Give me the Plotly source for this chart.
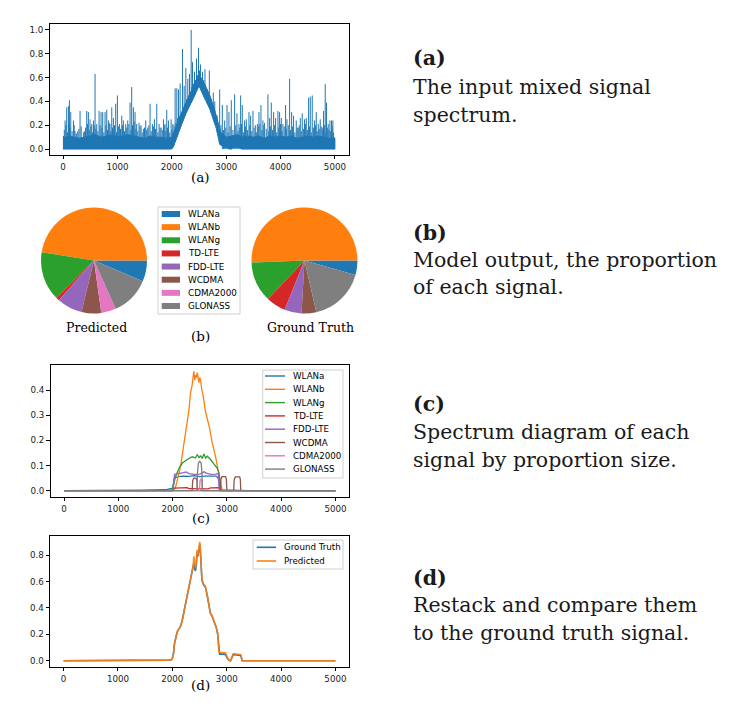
import plotly.graph_objects as go

W, H = 737, 716

# ---------------- DATA ----------------
SIGNALS = ["WLANa", "WLANb", "WLANg", "TD-LTE", "FDD-LTE", "WCDMA", "CDMA2000", "GLONASS"]
COLORS = ["#1f77b4", "#ff7f0e", "#2ca02c", "#d62728", "#9467bd", "#8c564b", "#e377c2", "#7f7f7f"]

# (a) input mixed signal spectrum
# dense band: top edge and lower edge (floor of the central hump)
A_band_x = [0, 100, 200, 300, 400, 500, 600, 700, 800, 900, 1000, 1100, 1200, 1300, 1400, 1500, 1600,
            1700, 1800, 1900, 2000, 2100, 2200, 2300, 2400, 2500, 2600, 2700, 2800, 2900, 3000, 3100,
            3200, 3300, 3400, 3500, 3600, 3700, 3800, 3900, 4000, 4100, 4200, 4300, 4400, 4500, 4600,
            4700, 4800, 4900, 5000]
A_band_top = [0.09, 0.11, 0.10, 0.09, 0.10, 0.11, 0.12, 0.10, 0.11, 0.12, 0.10, 0.11, 0.12, 0.11, 0.10,
              0.09, 0.11, 0.10, 0.10, 0.09, 0.10, 0.22, 0.33, 0.43, 0.53, 0.62, 0.55, 0.45, 0.31, 0.14,
              0.10, 0.11, 0.12, 0.10, 0.11, 0.10, 0.11, 0.09, 0.11, 0.10, 0.11, 0.10, 0.11, 0.09, 0.10,
              0.11, 0.10, 0.11, 0.10, 0.09, 0.09]
A_floor_x = [0, 1995, 2030, 2080, 2150, 2270, 2390, 2500, 2520, 2580, 2700, 2820, 2880, 2950, 3020,
             3060, 3100, 3150, 3250, 3280, 5000]
A_floor_y = [0, 0, 0.02, 0.08, 0.17, 0.31, 0.42, 0.53, 0.52, 0.45, 0.335, 0.17, 0.04, 0.02, 0.01,
             0, 0, 0.015, 0.015, 0, 0]
# spikes outside the central hump (start at 0)
A_spike_x = [6, 22, 37, 52, 67, 82, 98, 107, 116, 128, 141, 165, 190, 205, 220, 245, 270, 291, 312, 333,
             355, 373, 392, 413, 435, 450, 465, 480, 496, 511, 527, 542, 558, 573, 588, 603, 619, 640,
             662, 680, 699, 714, 729, 750, 772, 787, 803, 818, 833, 848, 864, 879, 895, 910, 925, 946,
             968, 983, 999, 1017, 1036, 1057, 1079, 1094, 1109, 1130, 1152, 1170, 1189, 1210, 1232,
             1247, 1262, 1277, 1293, 1308, 1324, 1339, 1354, 1375, 1397, 1415, 1434, 1455, 1477, 1498,
             1520, 1538, 1557, 1578, 1600, 1621, 1643, 1661, 1680, 1701, 1723, 1744, 1766, 1784, 1803,
             1824, 1846, 1861, 1876, 1891, 1907, 1922, 1938, 1962, 1987,
             2929, 2950, 2972, 2993, 3015, 3033, 3051, 3072, 3094, 3124, 3155, 3176, 3198, 3216, 3235,
             3250, 3266, 3281, 3296, 3317, 3339, 3354, 3370, 3394, 3419, 3434, 3450, 3471, 3493, 3514,
             3536, 3554, 3573, 3588, 3603, 3621, 3640, 3658, 3676, 3691, 3707, 3737, 3768, 3783, 3799,
             3814, 3830, 3851, 3873, 3891, 3909, 3930, 3952, 3967, 3983, 3998, 4014, 4029, 4044, 4068,
             4093, 4105, 4118, 4142, 4167, 4185, 4204, 4222, 4240, 4264, 4289, 4307, 4326, 4344, 4363,
             4381, 4399, 4420, 4442, 4457, 4473, 4494, 4516, 4531, 4547, 4565, 4583, 4604, 4626, 4641,
             4657, 4675, 4694, 4712, 4730, 4748, 4767, 4779, 4791, 4806, 4822, 4834, 4846, 4861, 4877,
             4892, 4908, 4923, 4938, 4950, 4963, 4975, 4987]
A_spike_y = [0.11, 0.16, 0.24, 0.20, 0.35, 0.14, 0.36, 0.22, 0.41, 0.18, 0.31, 0.15, 0.24, 0.20, 0.15,
             0.13, 0.15, 0.17, 0.32, 0.19, 0.10, 0.14, 0.15, 0.18, 0.32, 0.21, 0.31, 0.16, 0.25, 0.19,
             0.21, 0.14, 0.24, 0.20, 0.63, 0.17, 0.21, 0.15, 0.32, 0.20, 0.31, 0.18, 0.31, 0.14, 0.31,
             0.20, 0.33, 0.16, 0.24, 0.22, 0.21, 0.15, 0.35, 0.18, 0.26, 0.20, 0.38, 0.14, 0.45, 0.19,
             0.21, 0.17, 0.28, 0.20, 0.24, 0.15, 0.21, 0.18, 0.24, 0.21, 0.39, 0.16, 0.52, 0.20, 0.35,
             0.23, 0.31, 0.17, 0.21, 0.15, 0.22, 0.19, 0.20, 0.14, 0.17, 0.18, 0.24, 0.16, 0.18, 0.20,
             0.38, 0.15, 0.21, 0.19, 0.25, 0.17, 0.38, 0.14, 0.21, 0.18, 0.18, 0.16, 0.25, 0.20, 0.21,
             0.15, 0.33, 0.18, 0.24, 0.14, 0.25,
             0.37, 0.16, 0.24, 0.18, 0.37, 0.14, 0.31, 0.19, 0.41, 0.16, 0.46, 0.20, 0.30, 0.15, 0.21,
             0.18, 0.45, 0.21, 0.37, 0.14, 0.24, 0.19, 0.25, 0.16, 0.31, 0.20, 0.28, 0.15, 0.32, 0.18,
             0.20, 0.14, 0.21, 0.19, 0.31, 0.21, 0.37, 0.16, 0.24, 0.20, 0.22, 0.17, 0.46, 0.15, 0.26,
             0.19, 0.39, 0.16, 0.31, 0.20, 0.26, 0.14, 0.32, 0.18, 0.31, 0.21, 0.26, 0.15, 0.21, 0.19,
             0.37, 0.17, 0.25, 0.20, 0.59, 0.16, 0.31, 0.19, 0.28, 0.14, 0.24, 0.18, 0.18, 0.20, 0.26,
             0.15, 0.30, 0.17, 0.25, 0.21, 0.26, 0.16, 0.43, 0.19, 0.44, 0.14, 0.45, 0.18, 0.24, 0.20,
             0.31, 0.15, 0.21, 0.17, 0.25, 0.19, 0.18, 0.16, 0.32, 0.20, 0.545, 0.14, 0.39, 0.18, 0.21,
             0.16, 0.24, 0.15, 0.24, 0.19, 0.24, 0.14, 0.10]
# spikes riding on the central hump: x, lower end (floor), upper end
A_hump_x = [2002, 2018, 2040, 2061, 2076, 2092, 2107, 2123, 2138, 2153, 2175, 2196, 2211, 2227, 2242,
            2258, 2276, 2294, 2310, 2325, 2340, 2356, 2368, 2380, 2398, 2417, 2435, 2454, 2472, 2491,
            2509, 2527, 2545, 2564, 2587, 2610, 2650, 2690, 2726, 2763, 2776, 2790, 2835, 2880, 2904]
A_hump_base = [0.004, 0.013, 0.03, 0.06, 0.075, 0.10, 0.11, 0.135, 0.155, 0.17, 0.20, 0.22, 0.24, 0.26,
               0.28, 0.30, 0.315, 0.33, 0.35, 0.36, 0.375, 0.39, 0.40, 0.41, 0.43, 0.45, 0.46, 0.48,
               0.50, 0.52, 0.53, 0.51, 0.49, 0.47, 0.44, 0.42, 0.38, 0.345, 0.30, 0.25, 0.23, 0.21,
               0.14, 0.04, 0.035]
A_hump_top = [0.16, 0.21, 0.20, 0.51, 0.22, 0.51, 0.26, 0.50, 0.28, 0.55, 0.30, 0.84, 0.34, 0.53, 0.38,
              0.68, 0.42, 0.59, 0.45, 0.63, 0.48, 1.00, 0.52, 0.73, 0.55, 0.65, 0.58, 0.76, 0.62, 0.85,
              0.66, 0.71, 0.60, 0.65, 0.58, 0.67, 0.50, 0.66, 0.42, 0.475, 0.35, 0.40, 0.28, 0.50, 0.20]

# (b) proportions (%)
PIE_PREDICTED = [6.4, 47.5, 15.0, 1.0, 7.7, 6.0, 4.5, 11.9]
PIE_GROUND_TRUTH = [4.4, 50.6, 12.3, 6.0, 5.2, 4.5, 0.0, 17.0]

# (c) per-signal spectra
C_WLANa_x = [0, 1400, 1900, 2000, 2030, 2100, 2200, 2300, 2400, 2500, 2600, 2700, 2800, 2840, 2870, 2900, 3400, 5000]
C_WLANa_y = [0, 0, 0.005, 0.01, 0.05, 0.056, 0.058, 0.057, 0.06, 0.056, 0.058, 0.057, 0.058, 0.05, 0.01, 0.003, 0, 0]
C_WLANb_x = [0, 2000, 2050, 2090, 2150, 2210, 2270, 2300, 2330, 2360, 2390, 2410, 2425, 2440, 2455, 2470,
             2485, 2500, 2515, 2540, 2565, 2600, 2640, 2680, 2730, 2790, 2850, 2885, 2915, 5000]
C_WLANb_y = [0, 0, 0.01, 0.045, 0.1, 0.19, 0.27, 0.32, 0.39, 0.42, 0.475, 0.44, 0.46, 0.45, 0.47, 0.44,
             0.43, 0.45, 0.44, 0.40, 0.375, 0.32, 0.29, 0.25, 0.19, 0.137, 0.07, 0.03, 0, 0]
C_WLANg_x = [0, 1990, 2025, 2055, 2120, 2180, 2270, 2360, 2420, 2455, 2490, 2515, 2545, 2577, 2610, 2640,
             2700, 2760, 2820, 2855, 2885, 2910, 5000]
C_WLANg_y = [0, 0.003, 0.03, 0.057, 0.09, 0.11, 0.124, 0.135, 0.13, 0.144, 0.13, 0.14, 0.128, 0.146, 0.13,
             0.137, 0.124, 0.108, 0.09, 0.07, 0.01, 0, 0]
C_TDLTE_x = [0, 2000, 2030, 2270, 2300, 2650, 2700, 2850, 2880, 5000]
C_TDLTE_y = [0, 0, 0.01, 0.012, 0.008, 0.007, 0.011, 0.012, 0, 0]
C_FDDLTE_x = [0, 2010, 2035, 2100, 2200, 2250, 2300, 2400, 2500, 2580, 2620, 2700, 2800, 2840, 2860, 5000]
C_FDDLTE_y = [0, 0, 0.065, 0.067, 0.072, 0.075, 0.068, 0.065, 0.066, 0.075, 0.07, 0.065, 0.066, 0.07, 0, 0]
C_WCDMA_x = [0, 2360, 2370, 2390, 2430, 2450, 2460, 2880, 2890, 2910, 2975, 2990, 3000, 3125, 3135,
             3155, 3235, 3248, 3255, 5000]
C_WCDMA_y = [0, 0, 0.04, 0.05, 0.05, 0.04, 0, 0, 0.045, 0.056, 0.056, 0.045, 0, 0, 0.045,
             0.055, 0.055, 0.045, 0, 0]
C_CDMA2000_x = [0, 2495, 2505, 2520, 2538, 2548, 5000]
C_CDMA2000_y = [0, 0, 0.04, 0.045, 0.04, 0, 0]
C_GLONASS_x = [0, 2450, 2458, 2475, 2500, 2525, 2542, 2550, 5000]
C_GLONASS_y = [0, 0, 0.07, 0.11, 0.117, 0.11, 0.07, 0, 0]

# (d) restacked vs ground truth
D_x = [0, 1500, 1950, 1995, 2020, 2040, 2060, 2090, 2120, 2150, 2180, 2210, 2240, 2270, 2300, 2320, 2345,
       2365, 2385, 2395, 2410, 2425, 2440, 2455, 2470, 2490, 2505, 2515, 2530, 2545, 2575, 2607, 2640,
       2670, 2700, 2730, 2760, 2790, 2810, 2835, 2855, 2870, 2950, 2980, 3010, 3040, 3070, 3100, 3120,
       3140, 3240, 3260, 3285, 3400, 5000]
D_truth = [0, 0.002, 0.005, 0.01, 0.05, 0.13, 0.18, 0.22, 0.24, 0.26, 0.30, 0.36, 0.42, 0.49, 0.55, 0.58,
           0.62, 0.66, 0.70, 0.74, 0.70, 0.68, 0.72, 0.82, 0.79, 0.85, 0.88, 0.84, 0.70, 0.61, 0.575,
           0.56, 0.50, 0.44, 0.36, 0.34, 0.31, 0.27, 0.25, 0.20, 0.06, 0.05, 0.05, 0.045, 0.02, 0.003,
           0.0, 0.025, 0.045, 0.045, 0.043, 0.04, 0.0, 0.0, 0]
D_pred = [0, 0.002, 0.005, 0.01, 0.05, 0.13, 0.18, 0.22, 0.24, 0.26, 0.30, 0.36, 0.42, 0.49, 0.55, 0.59,
          0.63, 0.67, 0.72, 0.79, 0.72, 0.70, 0.74, 0.84, 0.80, 0.86, 0.90, 0.85, 0.70, 0.615, 0.58,
          0.565, 0.50, 0.44, 0.36, 0.34, 0.31, 0.27, 0.25, 0.21, 0.07, 0.065, 0.065, 0.06, 0.03, 0.005,
          0.0, 0.03, 0.053, 0.053, 0.05, 0.045, 0.0, 0.0, 0]

C_SERIES = [(C_WLANa_x, C_WLANa_y), (C_WLANb_x, C_WLANb_y), (C_WLANg_x, C_WLANg_y),
            (C_TDLTE_x, C_TDLTE_y), (C_FDDLTE_x, C_FDDLTE_y), (C_WCDMA_x, C_WCDMA_y),
            (C_CDMA2000_x, C_CDMA2000_y), (C_GLONASS_x, C_GLONASS_y)]

# ---------------- HELPERS ----------------
def px(x):
    return x / W


def py(y):
    return 1 - y / H


SANS = "DejaVu Sans"
SERIF = "DejaVu Serif"
TICKFONT = dict(family=SANS, size=8.7, color="#222")

fig = go.Figure()

# ---------------- (a) ----------------
fig.add_trace(go.Scatter(x=A_band_x + A_floor_x[::-1], y=A_band_top + A_floor_y[::-1],
                         mode="lines", fill="toself", fillcolor=COLORS[0],
                         line=dict(color=COLORS[0], width=1),
                         xaxis="x", yaxis="y", showlegend=False, hoverinfo="skip"))
sx, sy = [], []
for xv, hv in zip(A_spike_x, A_spike_y):
    sx += [xv, xv, None]
    sy += [0, hv, None]
for xv, bv, hv in zip(A_hump_x, A_hump_base, A_hump_top):
    sx += [xv, xv, None]
    sy += [bv, hv, None]
fig.add_trace(go.Scatter(x=sx, y=sy, mode="lines", line=dict(color=COLORS[0], width=1.0),
                         xaxis="x", yaxis="y", showlegend=False, hoverinfo="skip"))

# ---------------- (b) ----------------
fig.add_trace(go.Pie(labels=SIGNALS, values=PIE_PREDICTED, sort=False, direction="counterclockwise",
                     rotation=90, textinfo="none", marker=dict(colors=COLORS, line=dict(width=0)),
                     domain=dict(x=[px(41), px(147)], y=[py(313.5), py(207.5)]), showlegend=False,
                     hoverinfo="label+percent"))
fig.add_trace(go.Pie(labels=SIGNALS, values=PIE_GROUND_TRUTH, sort=False, direction="counterclockwise",
                     rotation=90, textinfo="none", marker=dict(colors=COLORS, line=dict(width=0)),
                     domain=dict(x=[px(251.5), px(357.5)], y=[py(313.5), py(207.5)]), showlegend=False,
                     hoverinfo="label+percent"))

# ---------------- (c) ----------------
for (xs, ys), name, col in zip(C_SERIES, SIGNALS, COLORS):
    fig.add_trace(go.Scatter(x=xs, y=ys, mode="lines", name=name, line=dict(color=col, width=1.3),
                             xaxis="x2", yaxis="y2", showlegend=False))

# ---------------- (d) ----------------
fig.add_trace(go.Scatter(x=D_x, y=D_truth, mode="lines", name="Ground Truth",
                         line=dict(color=COLORS[0], width=1.6), xaxis="x3", yaxis="y3", showlegend=False))
fig.add_trace(go.Scatter(x=D_x, y=D_pred, mode="lines", name="Predicted",
                         line=dict(color=COLORS[1], width=1.6), opacity=0.9,
                         xaxis="x3", yaxis="y3", showlegend=False))

# ---------------- axes ----------------
def xax(domain, anchor):
    return dict(domain=domain, anchor=anchor, range=[-250, 5250], tickvals=[0, 1000, 2000, 3000, 4000, 5000],
                showline=True, mirror=True, linecolor="black", linewidth=0.8, ticks="outside",
                ticklen=3.5, tickwidth=0.8, tickcolor="black", showgrid=False, zeroline=False,
                tickfont=TICKFONT)


def yax(domain, anchor, rng, tv):
    return dict(domain=domain, anchor=anchor, range=rng, tickvals=tv, tickformat=".1f",
                showline=True, mirror=True, linecolor="black", linewidth=0.8, ticks="outside",
                ticklen=3.5, tickwidth=0.8, tickcolor="black", showgrid=False, zeroline=False,
                tickfont=TICKFONT)


shapes = []
annotations = []


def legend_box(x0, y0, x1, y1):
    shapes.append(dict(type="rect", xref="paper", yref="paper", x0=px(x0), x1=px(x1), y0=py(y1), y1=py(y0),
                       line=dict(color="#d0d0d0", width=1), fillcolor="white", layer="above"))


def text(x, y, s, size, family=SANS, xanchor="left", color="black"):
    annotations.append(dict(x=px(x), y=py(y), xref="paper", yref="paper", text=s, showarrow=False,
                            xanchor=xanchor, yanchor="middle", font=dict(family=family, size=size, color=color)))


# legend (b): patches
legend_box(158, 207, 240, 314)
for i, (name, col) in enumerate(zip(SIGNALS, COLORS)):
    yc = 214 + i * 13.14
    shapes.append(dict(type="rect", xref="paper", yref="paper", x0=px(161.7), x1=px(180),
                       y0=py(yc + 3), y1=py(yc - 3), line=dict(width=0), fillcolor=col, layer="above"))
    text(186, yc, name, 8.8)

# legend (c): lines
legend_box(262.7, 370, 343, 478)
for i, (name, col) in enumerate(zip(SIGNALS, COLORS)):
    yc = 376 + i * 13.3
    shapes.append(dict(type="line", xref="paper", yref="paper", x0=px(265), x1=px(285),
                       y0=py(yc), y1=py(yc), line=dict(color=col, width=1.4), layer="above"))
    text(290.5, yc, name, 8.7)

# legend (d)
legend_box(253, 540, 343, 569)
for i, (name, col) in enumerate(zip(["Ground Truth", "Predicted"], COLORS[:2])):
    yc = 547.3 + i * 13.7
    shapes.append(dict(type="line", xref="paper", yref="paper", x0=px(256.7), x1=px(276),
                       y0=py(yc), y1=py(yc), line=dict(color=col, width=1.6), layer="above"))
    text(281.5, yc, name, 8.7)

# panel labels
text(200.5, 177, "(a)", 13.5, SERIF, "center")
text(96.3, 327.5, "Predicted", 12.5, SERIF, "center")
text(310, 327.5, "Ground Truth", 12.5, SERIF, "center")
text(200.5, 336, "(b)", 13.5, SERIF, "center")
text(200.5, 517.5, "(c)", 13.5, SERIF, "center")
text(200.5, 685, "(d)", 13.5, SERIF, "center")

# right-hand descriptions
TX = 410.5
desc = [
    (57.5, "<b>(a)</b>"), (87, "The input mixed signal"), (115, "spectrum."),
    (233, "<b>(b)</b>"), (260, "Model output, the proportion"), (287, "of each signal."),
    (404, "<b>(c)</b>"), (432, "Spectrum diagram of each"), (460, "signal by proportion size."),
    (577.5, "<b>(d)</b>"), (605, "Restack and compare them"), (633, "to the ground truth signal."),
]
for yc, s in desc:
    text(TX, yc, s, 20.5, SERIF, "left", "#1a1a1a")

fig.update_layout(
    width=W, height=H, margin=dict(l=0, r=0, t=0, b=0),
    paper_bgcolor="white", plot_bgcolor="white",
    xaxis=xax([px(49.5), px(348.5)], "y"),
    yaxis=yax([py(155), py(24)], "x", [-0.05, 1.05], [0, 0.2, 0.4, 0.6, 0.8, 1.0]),
    xaxis2=xax([px(50.5), px(349)], "y2"),
    yaxis2=yax([py(496.7), py(365)], "x2", [-0.0238, 0.5], [0, 0.1, 0.2, 0.3, 0.4]),
    xaxis3=xax([px(50), px(349)], "y3"),
    yaxis3=yax([py(666.7), py(536)], "x3", [-0.045, 0.945], [0, 0.2, 0.4, 0.6, 0.8]),
    shapes=shapes, annotations=annotations, showlegend=False,
)

fig.write_html("out.html")
